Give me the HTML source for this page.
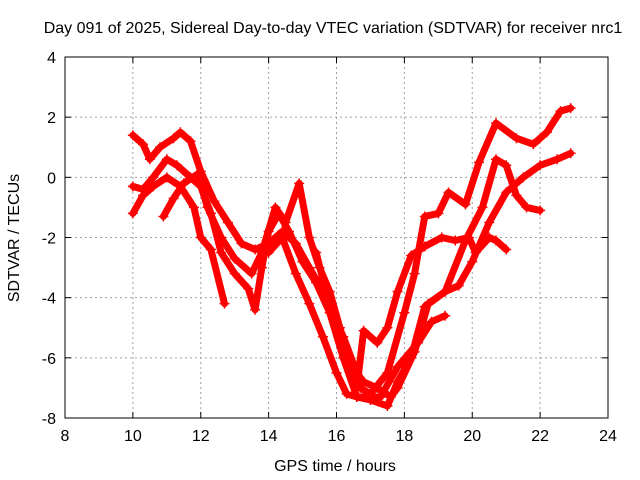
<!DOCTYPE html>
<html><head><meta charset="utf-8"><style>
body{margin:0;background:#fff;}
svg{display:block;font-family:"Liberation Sans",sans-serif;}
</style></head><body>
<svg id="chart" width="640" height="480" xmlns="http://www.w3.org/2000/svg">
<rect width="640" height="480" fill="#fff"/>
<text x="333" y="33" font-size="16" text-anchor="middle">Day 091 of 2025, Sidereal Day-to-day VTEC variation (SDTVAR) for receiver nrc1</text>
<g id="grid"></g>
<g id="series"></g>
<g id="axes"></g>
<text x="335" y="471" font-size="16" text-anchor="middle">GPS time / hours</text>
<text x="19" y="238" font-size="16" text-anchor="middle" transform="rotate(-90 19 238)">SDTVAR / TECUs</text>
</svg>
<script>
const xTicks=[8,10,12,14,16,18,20,22,24];
const yTicks=[-8,-6,-4,-2,0,2,4];
const trackA=[[10.0,1.4],[10.3,1.1],[10.5,0.6],[10.8,1.0],[11.2,1.3],[11.4,1.5],[11.7,1.2],[12.0,0.2],[12.4,-0.8],[12.8,-1.5],[13.2,-2.2],[13.6,-2.4],[14.0,-2.2],[14.4,-1.8],[14.8,-2.2],[15.2,-3.0],[15.6,-3.8],[16.0,-5.0],[16.4,-6.3],[16.7,-7.0],[17.0,-7.2],[17.5,-6.5],[18.0,-4.5],[18.3,-3.2],[18.6,-1.3],[19.0,-1.2],[19.3,-0.5],[19.8,-0.9],[20.2,0.5],[20.7,1.8],[21.3,1.3],[21.8,1.1],[22.2,1.5],[22.6,2.2],[22.9,2.3]];
const trackB=[[10.0,-0.3],[10.3,-0.4],[10.6,0.0],[11.0,0.6],[11.3,0.4],[11.7,0.0],[12.0,-0.3],[12.3,-1.2],[12.6,-2.5],[13.0,-3.2],[13.4,-3.7],[13.6,-4.4],[13.8,-3.0],[14.0,-1.8],[14.3,-1.2],[14.6,-1.8],[15.0,-2.8],[15.4,-3.5],[15.8,-4.5],[16.2,-6.0],[16.6,-7.3],[17.0,-7.4],[17.5,-7.6],[17.8,-6.8],[18.2,-6.0],[18.6,-4.3],[19.2,-3.8],[19.8,-2.1],[20.3,-1.0],[20.7,0.6],[21.0,0.4],[21.3,-0.6],[21.6,-1.0],[22.0,-1.1]];
const trackC=[[10.0,-1.2],[10.3,-0.6],[10.6,-0.3],[11.0,0.0],[11.4,-0.3],[11.8,-1.0],[12.0,-2.0],[12.3,-2.4],[12.7,-4.2]];
const trackD=[[10.9,-1.3],[11.2,-0.7],[11.5,-0.2],[11.9,0.1],[12.2,-1.0],[12.6,-2.0],[13.0,-2.7],[13.5,-3.2],[13.8,-2.5],[14.2,-1.0],[14.5,-1.5],[14.9,-0.2],[15.2,-2.0],[15.5,-3.0],[15.8,-3.8],[16.1,-5.0],[16.4,-6.2],[16.8,-6.8],[17.2,-7.0],[17.6,-7.3],[17.8,-7.0],[18.3,-5.8],[18.7,-4.2],[19.2,-3.8],[19.6,-3.6],[20.0,-2.8],[20.5,-1.5],[21.0,-0.5],[21.5,0.0],[22.0,0.4],[22.5,0.6],[22.9,0.8]];
const trackE=[[14.0,-2.5],[14.4,-2.0],[14.8,-3.2],[15.2,-4.2],[15.6,-5.3],[16.0,-6.5],[16.3,-7.2],[16.6,-7.3],[17.0,-7.3],[17.3,-7.3],[17.8,-6.3],[18.4,-5.5],[18.8,-4.8],[19.2,-4.6]];
const trackF=[[15.4,-2.5],[15.8,-4.3],[16.2,-5.3],[16.5,-6.2],[16.6,-7.0],[16.8,-5.1],[17.2,-5.5],[17.5,-5.0],[17.8,-3.8],[18.2,-2.6],[18.6,-2.3],[19.1,-2.0],[19.5,-2.1],[19.9,-2.0],[20.1,-2.5],[20.5,-2.0],[20.7,-2.1],[21.0,-2.4]];
const tracks=[trackA,trackB,trackC,trackD,trackE,trackF];
const X0=65,X1=608,Y0=418,Y1=57;
const xs=t=>X0+(t-8)/16*(X1-X0);
const ys=v=>Y0-(v+8)/12*(Y0-Y1);
const NS="http://www.w3.org/2000/svg";
function mk(tag,attrs,parent){const e=document.createElementNS(NS,tag);for(const k in attrs)e.setAttribute(k,attrs[k]);parent.appendChild(e);return e;}
const grid=document.getElementById('grid'),axes=document.getElementById('axes'),ser=document.getElementById('series');
xTicks.forEach(t=>{const x=xs(t);
 if(t>8&&t<24){const g=mk('line',{x1:x,x2:x,y1:Y1,y2:Y0,stroke:'#a0a0a0','stroke-dasharray':'2,3'},grid);}
 mk('line',{x1:x,x2:x,y1:Y0,y2:Y0-6,stroke:'#000'},axes);mk('line',{x1:x,x2:x,y1:Y1,y2:Y1+6,stroke:'#000'},axes);
 const l=mk('text',{x:x,y:Y0+23,'font-size':16,'text-anchor':'middle'},axes);l.textContent=t;
 });
yTicks.forEach(v=>{const y=ys(v);
 if(v>-8&&v<4){const g=mk('line',{x1:X0,x2:X1,y1:y,y2:y,stroke:'#a0a0a0','stroke-dasharray':'2,3'},grid);}
 mk('line',{x1:X0,x2:X0+6,y1:y,y2:y,stroke:'#000'},axes);mk('line',{x1:X1,x2:X1-6,y1:y,y2:y,stroke:'#000'},axes);
 const l=mk('text',{x:X0-9,y:y+6,'font-size':16,'text-anchor':'end'},axes);l.textContent=v;
 });
const frame=mk('rect',{x:X0,y:Y1,width:X1-X0,height:Y0-Y1,fill:'none',stroke:'#000'},axes);


tracks.forEach((tr,i)=>{
 const p=mk('polyline',{points:tr.map(d=>xs(d[0])+','+ys(d[1])).join(' '),fill:'none',stroke:'#ff0000','stroke-width':7,'stroke-linejoin':'round','stroke-linecap':'round'},ser);
 
 
 tr.forEach(d=>{const x=xs(d[0]),y=ys(d[1]);
  const m=mk('path',{d:`M${x-5},${y}H${x+5}M${x},${y-5}V${y+5}`,stroke:'#ff0000','stroke-width':1.5},ser);
  
  });
});
</script>
</body></html>
